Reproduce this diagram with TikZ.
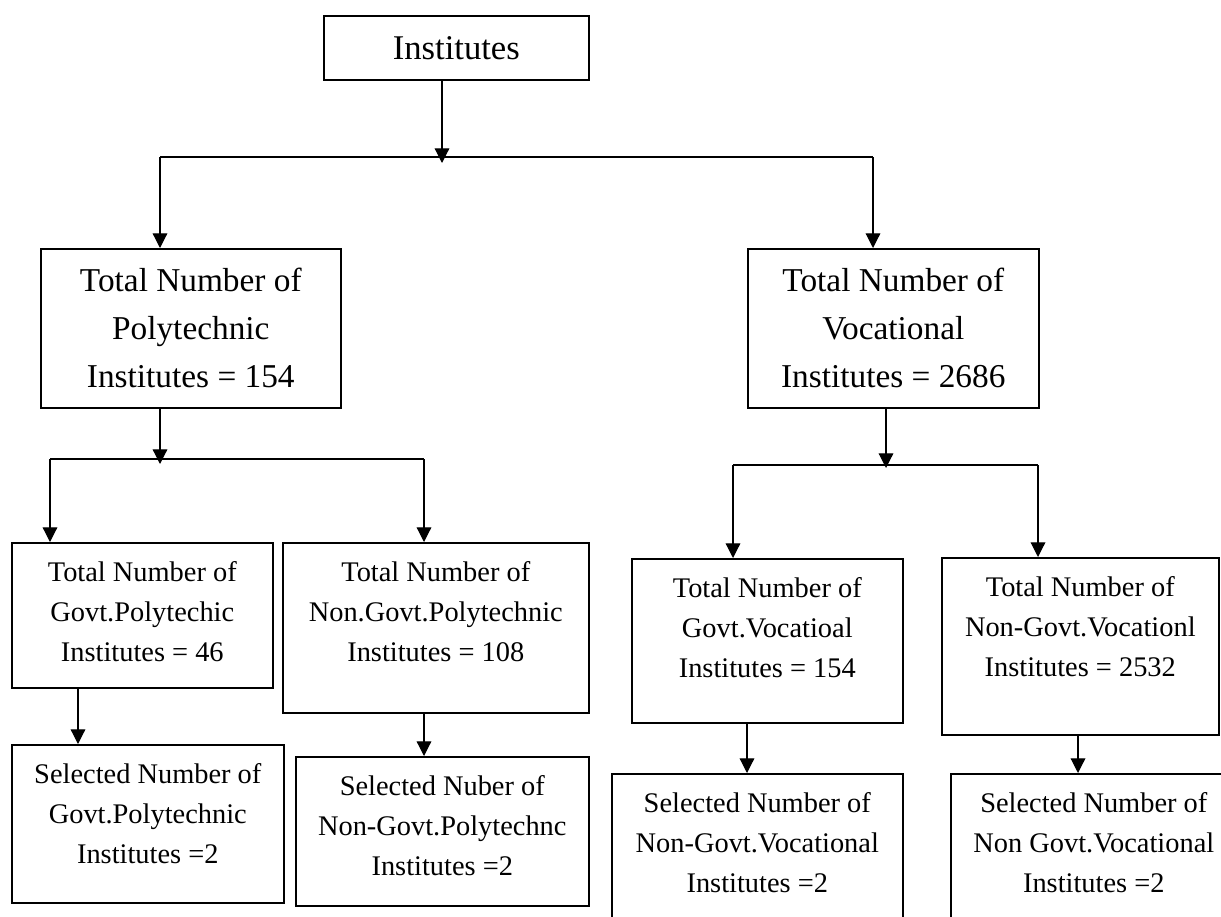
\documentclass[tikz,border=0pt]{standalone}
\usepackage{fontspec}
\setmainfont{Liberation Serif}
\usetikzlibrary{arrows.meta}
\newcommand{\celltext}[3]{\parbox[c][#2][t]{#1}{\centering\rule{0pt}{29pt}#3}}

\begin{document}
\begin{tikzpicture}[
  x=0.75pt,
  y=-0.75pt,
  box/.style={
    draw,
    line width=1.2pt,
    anchor=north west,
    inner sep=0pt
  },
  bigbox/.style={box,align=center,font=\fontsize{25}{36}\selectfont},
  cell/.style={box,font=\fontsize{21.3}{30}\selectfont},
  arrow/.style={-{Triangle[length=11pt,width=11pt]},line width=0.9pt},
  bus/.style={line width=0.9pt}
]
  \clip (0,0) rectangle (1221,917);

  \node[box,font=\fontsize{26}{30}\selectfont,
    minimum width=198.75pt,minimum height=48pt] (inst) at (323,15) {Institutes};
  \node[bigbox,minimum width=225pt,minimum height=119.25pt] (poly) at (40,248)
    {Total Number of\\Polytechnic\\Institutes = 154};
  \node[bigbox,minimum width=218.25pt,minimum height=119.25pt] (voc) at (747,248)
    {Total Number of\\Vocational\\Institutes = 2686};

  \node[cell] (gpoly) at (11,542)
    {\celltext{195.75pt}{108.75pt}{Total Number of\\Govt.Polytechic\\Institutes = 46}};
  \node[cell] (npoly) at (282,542)
    {\celltext{229.5pt}{127.5pt}{Total Number of\\Non.Govt.Polytechnic\\Institutes = 108}};
  \node[cell] (gvoc) at (631,558)
    {\celltext{203.25pt}{123pt}{Total Number of\\Govt.Vocatioal\\Institutes = 154}};
  \node[cell] (nvoc) at (941,557)
    {\celltext{207.75pt}{132.75pt}{Total Number of\\Non-Govt.Vocationl\\Institutes = 2532}};

  \node[cell] (sgpoly) at (11,744)
    {\celltext{204pt}{118.5pt}{Selected Number of\\Govt.Polytechnic\\Institutes =2}};
  \node[cell] (snpoly) at (295,756)
    {\celltext{219.75pt}{111.75pt}{Selected Nuber of\\Non-Govt.Polytechnc\\Institutes =2}};
  \node[cell] (sgvoc) at (611,773)
    {\celltext{218.25pt}{125.25pt}{Selected Number of\\Non-Govt.Vocational\\Institutes =2}};
  \node[cell] (snvoc) at (950,773)
    {\celltext{214.5pt}{125.25pt}{Selected Number of\\Non Govt.Vocational\\Institutes =2}};

  % first split
  \coordinate (instbus) at (442,163);
  \coordinate (busL) at (160,157);
  \coordinate (busR) at (873,157);
  \draw[arrow] (instbus |- inst.south)--(instbus);
  \draw[bus] (busL)--(busR);
  \draw[arrow] (busL)--(busL |- poly.north);
  \draw[arrow] (busR)--(busR |- voc.north);

  % polytechnic split
  \coordinate (polybus) at (160,464);
  \coordinate (pbusL) at (50,459);
  \coordinate (pbusR) at (424,459);
  \draw[arrow] (polybus |- poly.south)--(polybus);
  \draw[bus] (pbusL)--(pbusR);
  \draw[arrow] (pbusL)--(pbusL |- gpoly.north);
  \draw[arrow] (pbusR)--(pbusR |- npoly.north);

  % vocational split
  \coordinate (vocbus) at (886,468);
  \coordinate (vbusL) at (733,465);
  \coordinate (vbusR) at (1038,465);
  \draw[arrow] (vocbus |- voc.south)--(vocbus);
  \draw[bus] (vbusL)--(vbusR);
  \draw[arrow] (vbusL)--(vbusL |- gvoc.north);
  \draw[arrow] (vbusR)--(vbusR |- nvoc.north);

  % selected
  \coordinate (gpolydown) at (78,0);
  \coordinate (npolydown) at (424,0);
  \coordinate (gvocdown) at (747,0);
  \coordinate (nvocdown) at (1078,0);
  \draw[arrow] (gpolydown |- gpoly.south)--(gpolydown |- sgpoly.north);
  \draw[arrow] (npolydown |- npoly.south)--(npolydown |- snpoly.north);
  \draw[arrow] (gvocdown |- gvoc.south)--(gvocdown |- sgvoc.north);
  \draw[arrow] (nvocdown |- nvoc.south)--(nvocdown |- snvoc.north);
\end{tikzpicture}
\end{document}
